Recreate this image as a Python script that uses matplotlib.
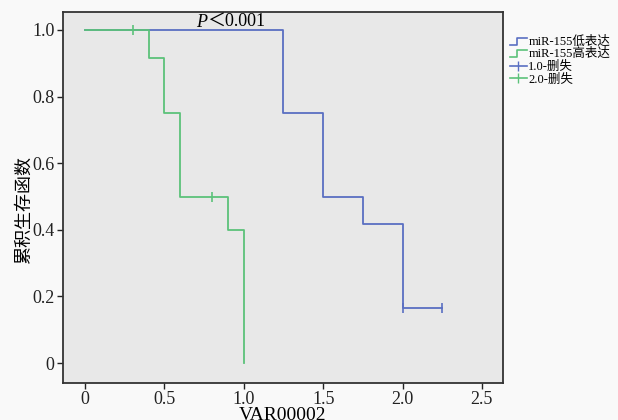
import matplotlib

matplotlib.use("Agg")
import matplotlib.pyplot as plt
from matplotlib.legend_handler import HandlerBase
from matplotlib.lines import Line2D

# survival steps: (time, survival) at each change point
low_times = [0, 1.25, 1.5, 1.75, 2.0, 2.25]
low_surv = [1.0, 0.75, 0.5, 0.4167, 0.1667, 0.1667]
low_cens_t = [2.0, 2.25]
low_cens_s = [0.1667, 0.1667]

high_times = [0, 0.4, 0.5, 0.6, 0.9, 1.0]
high_surv = [1.0, 0.9167, 0.75, 0.5, 0.4, 0.0]
high_cens_t = [0.3, 0.8]
high_cens_s = [1.0, 0.5]

x_ticks = [0, 0.5, 1.0, 1.5, 2.0, 2.5]
x_labels = ["0", "0.5", "1.0", "1.5", "2.0", "2.5"]
y_ticks = [0, 0.2, 0.4, 0.6, 0.8, 1.0]
y_labels = ["0", "0.2", "0.4", "0.6", "0.8", "1.0"]

legend_labels = ["miR-155低表达", "miR-155高表达", "1.0-删失", "2.0-删失"]

BLUE = "#5a6fc2"
GREEN = "#5cc27a"
FONT = ["Liberation Serif", "Noto Sans CJK SC"]

plt.rcParams["font.family"] = FONT


class StepHandler(HandlerBase):
    def create_artists(self, legend, orig, xd, yd, w, h, fontsize, trans):
        xs = [xd, xd + w * 0.45, xd + w * 0.45, xd + w]
        ys = [yd, yd, yd + h * 0.8, yd + h * 0.8]
        ln = Line2D(xs, ys, color=orig.get_color(), lw=1.2, transform=trans)
        return [ln]


fig = plt.figure(figsize=(6.18, 4.2), dpi=100, facecolor="#f9f9f9")
ax = fig.add_axes([63 / 618, 1 - 383 / 420, 440 / 618, 371 / 420])
ax.set_facecolor("#e8e8e8")

ax.step(low_times, low_surv, where="post", color=BLUE, lw=1.3)
ax.plot(low_cens_t, low_cens_s, ls="none", marker="|", ms=7, mew=1.2, color=BLUE)
ax.step(high_times, high_surv, where="post", color=GREEN, lw=1.3)
ax.plot(high_cens_t, high_cens_s, ls="none", marker="|", ms=7, mew=1.2, color=GREEN)

ax.set_xlim(-0.139, 2.633)
ax.set_ylim(-0.06, 1.054)
ax.set_xticks(x_ticks)
ax.set_xticklabels(x_labels)
ax.set_yticks(y_ticks)
ax.set_yticklabels(y_labels)
ax.tick_params(direction="out", length=4, width=1, labelsize=13, colors="#222222", pad=2)
for sp in ax.spines.values():
    sp.set_linewidth(1.3)
    sp.set_color("#333333")

ax.set_xlabel("VAR00002", fontsize=14, labelpad=-1)
ax.set_ylabel("累积生存函数", fontsize=13)
ax.yaxis.set_label_coords(-0.068, 0.466)

ax.text(0.77, 1.009, "P", ha="right", va="baseline", fontsize=13, style="italic")
ax.text(0.77, 1.009, "＜0.001", ha="left", va="baseline", fontsize=13)

h1 = Line2D([], [], color=BLUE)
h2 = Line2D([], [], color=GREEN)
h3 = Line2D([], [], color=BLUE, marker="|", ms=7, lw=1.2)
h4 = Line2D([], [], color=GREEN, marker="|", ms=7, lw=1.2)
fig.legend(
    [h1, h2, h3, h4],
    legend_labels,
    handler_map={h1: StepHandler(), h2: StepHandler()},
    loc="upper left",
    bbox_to_anchor=(502 / 618, 1 - 28 / 420),
    frameon=False,
    fontsize=9,
    handlelength=1.4,
    handletextpad=0.1,
    labelspacing=0.05,
    borderpad=0.1,
)

fig.savefig("out.png", dpi=100, facecolor=fig.get_facecolor())
